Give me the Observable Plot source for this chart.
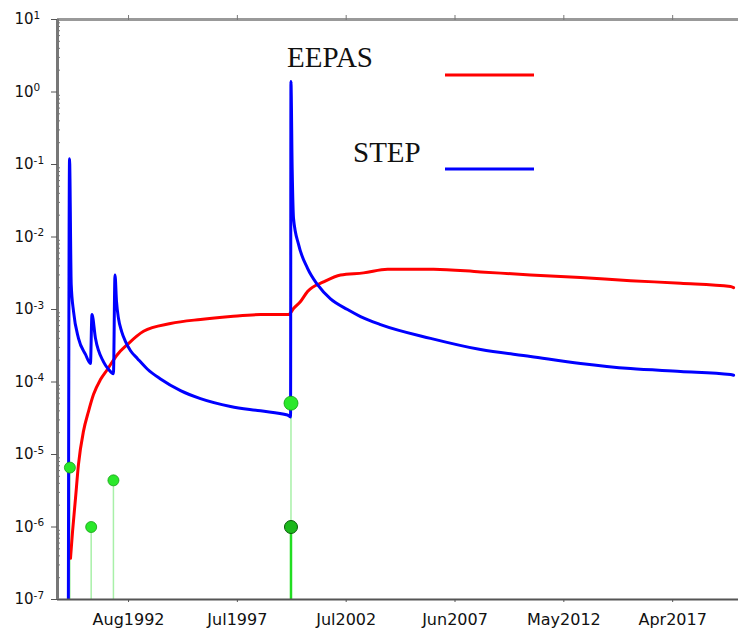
<!DOCTYPE html>
<html><head><meta charset="utf-8">
<script src="https://cdn.jsdelivr.net/npm/d3@7"></script>
<script src="https://cdn.jsdelivr.net/npm/@observablehq/plot@0.6"></script>
<style>
body{margin:0;background:#fff;}
#wrap{position:relative;width:738px;height:636px;}
#legend{position:absolute;left:0;top:0;pointer-events:none;}
</style></head><body>
<div id="wrap"></div>
<script>
// ---- data ----
const seriesNames = ["EEPAS", "STEP"];
const seriesColors = ["#ff0000", "#0000ff"];

const stepDates = ["1989-12-01","1989-12-22","1990-01-19","1990-02-26","1990-05-19","1990-09-12","1990-12-03","1990-12-28","1991-02-24","1991-07-07","1991-09-27","1991-12-18","1992-01-13","1992-02-07","1992-03-11","1992-05-01","1992-07-05","1992-09-26","1993-01-20","1993-07-04","1994-02-04","1995-01-01","1995-11-27","1997-04-07","1998-08-16","1999-11-06","1999-12-26","2000-01-01","2000-01-22","2000-02-13","2000-05-06","2000-10-02","2001-03-16","2001-10-17","2002-07-25","2003-02-25","2004-01-22","2006-04-28","2008-08-03","2010-11-07","2013-02-12","2015-05-19","2017-08-24","2019-11-28","2020-01-18"];
const stepValues = [1e-8,0.12,2.2e-3,9.4e-4,4.0e-4,2.4e-4,1.8e-4,8.5e-4,4.0e-4,1.9e-4,1.5e-4,1.3e-4,3.0e-3,1.29e-3,7.5e-4,5.0e-4,3.6e-4,2.7e-4,2.1e-4,1.5e-4,1.1e-4,7.6e-5,5.9e-5,4.6e-5,4.0e-5,3.5e-5,3.3e-5,1.4,0.085,0.018,7.9e-3,3.7e-3,2.2e-3,1.4e-3,1.0e-3,8.0e-4,6.2e-4,4.0e-4,2.8e-4,2.25e-4,1.8e-4,1.53e-4,1.4e-4,1.27e-4,1.24e-4];

const eepasDates = ["1990-01-07","1990-02-10","1990-03-31","1990-05-19","1990-08-10","1990-10-31","1991-01-22","1991-05-18","1991-09-11","1992-02-23","1992-08-07","1993-04-29","1994-07-19","1995-11-27","1997-04-07","1998-08-16","1999-11-22","2000-02-13","2000-06-08","2000-10-02","2001-06-23","2002-04-01","2003-04-16","2004-05-18","2006-06-17","2008-08-03","2010-11-07","2013-02-12","2015-05-19","2017-08-24","2019-11-28","2020-01-18"];
const eepasValues = [3.7e-7,8.7e-7,2.5e-6,7.3e-6,2.1e-5,3.9e-5,6.7e-5,1.08e-4,1.5e-4,2.4e-4,3.3e-4,5.0e-4,6.4e-4,7.3e-4,8.0e-4,8.5e-4,8.5e-4,1.03e-3,1.29e-3,1.77e-3,2.4e-3,3.0e-3,3.2e-3,3.6e-3,3.6e-3,3.3e-3,3.0e-3,2.76e-3,2.5e-3,2.3e-3,2.07e-3,2.0e-3];

const eventDates = ["1989-12-28","1990-12-15","1991-12-18","2000-01-02","2000-01-02"];
const eventValues = [6.6e-6,1.0e-6,4.4e-6,5.1e-5,1.0e-6];

const xDomainDates = ["1989-06-06","2020-04-08"];
const xTickDates = ["1992-08-24","1997-07-29","2002-07-03","2007-06-07","2012-05-11","2017-04-15"];
const yDecades = [1e-7,1e-6,1e-5,1e-4,1e-3,1e-2,1e-1,1,10];

// ---- build ----
const parse = d3.utcParse("%Y-%m-%d");
const step = stepDates.map((d,i)=>({date: parse(d), value: stepValues[i]}));
const eepas = eepasDates.map((d,i)=>({date: parse(d), value: eepasValues[i]}));
const events = eventDates.map((d,i)=>({date: parse(d), value: eventValues[i], i}));
const xDomain = xDomainDates.map(parse);
const xTicks = xTickDates.map(parse);
const yMin = yDecades[0], yMax = yDecades[yDecades.length-1];
const minor = [];
for (let k = 0; k < yDecades.length - 1; k++) for (let m = 2; m <= 9; m++) minor.push(m * yDecades[k]);

const small = events.filter(e => e.i < 3);
const big = events.filter(e => e.i === 3);
const floor = events.filter(e => e.i === 4);

const chart = Plot.plot({
  width: 738, height: 636,
  marginLeft: 57, marginRight: 0, marginTop: 19, marginBottom: 37,
  style: {fontFamily: "DejaVu Sans", fontSize: "16px", color: "#000", background: "#fff", overflow: "visible"},
  x: {type: "utc", domain: xDomain, label: null},
  y: {type: "log", domain: [yMin, yMax], label: null},
  marks: [
    Plot.ruleX(small.concat(big), {x: "date", y1: yMin, y2: "value", stroke: "#a8f0a8", strokeWidth: 1.5}),
    Plot.ruleX(floor, {x: "date", y1: yMin, y2: "value", stroke: "#22dd22", strokeWidth: 2.5}),
    Plot.line(eepas, {x: "date", y: "value", stroke: seriesColors[0], strokeWidth: 3, clip: true, curve: "monotone-x"}),
    Plot.line(step, {x: "date", y: "value", stroke: seriesColors[1], strokeWidth: 3, clip: true, curve: "monotone-x"}),
    Plot.dot(small, {x: "date", y: "value", r: 5.5, fill: "#2ae82a", stroke: "#14a014", strokeWidth: 0.8}),
    Plot.dot(big, {x: "date", y: "value", r: 7, fill: "#2ae82a", stroke: "#14a014", strokeWidth: 0.8}),
    Plot.dot(floor, {x: "date", y: "value", r: 6.5, fill: "#1cb81c", stroke: "#0a5a0a", strokeWidth: 1}),
    Plot.ruleY([yMin], {stroke: "#555", strokeWidth: 2}),
    Plot.ruleY([yMax], {stroke: "#999", strokeWidth: 3}),
    Plot.ruleX([xDomain[0]], {stroke: "#777", strokeWidth: 3}),
    Plot.axisY({ticks: yDecades, tickSize: 6, tickFormat: () => "", stroke: "#555", label: null}),
    Plot.axisY({ticks: minor, tickSize: 3, dx: 3, tickFormat: () => "", stroke: "#777", label: null}),
    Plot.axisX({ticks: xTicks, tickFormat: d3.utcFormat("%b%Y"), tickSize: 3, tickPadding: 11.5, fontSize: 16, stroke: "#555", fill: "#111", label: null}),
    Plot.axisX({anchor: "top", ticks: xTicks, tickSize: 5, tickFormat: () => "", stroke: "#777", label: null}),
    Plot.text(yDecades, {y: d => d, text: d => "10|" + Math.round(Math.log10(d)), frameAnchor: "left", textAnchor: "start", dx: -43, fontSize: 15, fill: "#111"})
  ]
});

d3.select(chart).selectAll("text").each(function() {
  const s = this.textContent;
  if (s.indexOf("|") < 0) return;
  const [base, exp] = s.split("|");
  const t = d3.select(this);
  t.text(base);
  t.append("tspan").attr("dy", "-0.55em").attr("font-size", "10.5px").text(exp);
});

const wrap = document.getElementById("wrap");
wrap.appendChild(chart);

// legend overlay
const lg = d3.select(wrap).append("svg").attr("id", "legend").attr("width", 738).attr("height", 636);
const legendPos = [{tx: 287, ty: 66.5, ly: 75}, {tx: 353, ty: 161.5, ly: 169}];
seriesNames.forEach((name, i) => {
  const p = legendPos[i];
  lg.append("text").attr("x", p.tx).attr("y", p.ty).attr("font-family", "Liberation Serif").attr("font-size", 29).attr("fill", "#111").text(name);
  lg.append("line").attr("x1", 445).attr("x2", 534).attr("y1", p.ly).attr("y2", p.ly).attr("stroke", seriesColors[i]).attr("stroke-width", 3);
});
</script>
</body></html>
